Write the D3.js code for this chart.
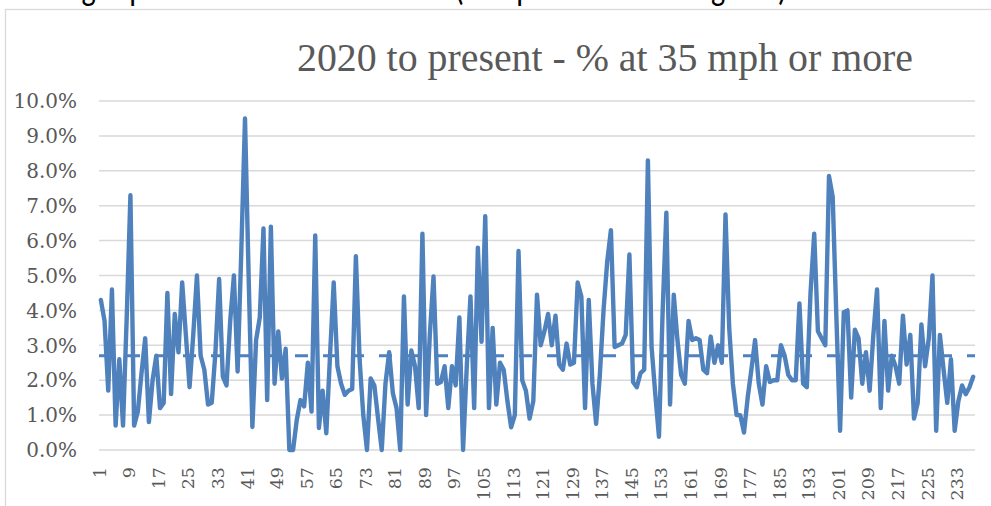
<!DOCTYPE html>
<html>
<head>
<meta charset="utf-8">
<script src="https://cdn.jsdelivr.net/npm/d3@7"></script>
<style>
  html, body { margin: 0; padding: 0; background: #fff; }
  svg { display: block; }
</style>
</head>
<body>
<div id="chart"></div>
<script>
// ---------- data ----------
const chartTitle = "2020 to present - % at 35 mph or more";
const headerText = "Average speed over time at this site (compared to 2019 figures)";
const pctAt35 = [
  4.3, 3.7, 1.7, 4.6, 0.7, 2.6, 0.7, 3.8, 7.3, 0.7,
  1.1, 2.2, 3.2, 0.8, 2.0, 2.7, 1.2, 1.35, 4.5, 1.6,
  3.9, 2.8, 4.8, 3.3, 1.8, 3.3, 5.0, 2.7, 2.3, 1.3,
  1.35, 2.8, 4.9, 2.1, 1.85, 3.7, 5.0, 2.25, 5.7, 9.5,
  4.9, 0.66, 3.15, 3.8, 6.35, 1.43, 6.4, 1.9, 3.4, 2.05,
  2.9, 0, 0, 0.86, 1.43, 1.25, 2.5, 1.1, 6.15, 0.63,
  1.7, 0.48, 2.7, 4.8, 2.4, 1.9, 1.58, 1.7, 1.75, 5.55,
  2.6, 1.0, 0, 2.05, 1.85, 0.9, 0, 1.9, 2.8, 1.63,
  1.2, 0, 4.4, 1.3, 2.85, 2.4, 1.2, 6.2, 1.0, 3.3,
  4.97, 1.9, 1.95, 2.4, 1.2, 2.4, 1.85, 3.8, 0, 2.4,
  4.4, 1.2, 5.8, 3.1, 6.7, 1.2, 3.5, 1.3, 2.5, 2.3,
  1.4, 0.65, 1.0, 5.7, 2.0, 1.7, 0.9, 1.4, 4.45, 3.0,
  3.4, 3.9, 3.0, 3.85, 2.45, 2.3, 3.05, 2.45, 2.5, 4.8,
  4.4, 1.2, 4.3, 1.9, 0.75, 2.15, 4.0, 5.4, 6.3, 2.95,
  3.0, 3.05, 3.3, 5.6, 1.95, 1.8, 2.2, 2.3, 8.3, 2.95,
  1.6, 0.38, 4.0, 6.8, 1.3, 4.45, 3.15, 2.15, 1.9, 3.7,
  3.15, 3.2, 3.15, 2.3, 2.2, 3.25, 2.5, 3.0, 2.5, 6.75,
  3.5, 1.9, 1.0, 1.0, 0.5, 1.5, 2.3, 3.15, 1.9, 1.3,
  2.4, 1.95, 2.0, 2.0, 3.0, 2.7, 2.15, 2.0, 2.0, 4.2,
  1.9, 1.8, 4.5, 6.2, 3.4, 3.2, 3.0, 7.85, 7.25, 3.8,
  0.55, 3.95, 4.0, 1.5, 3.45, 3.2, 1.9, 2.8, 1.7, 3.3,
  4.6, 1.2, 3.7, 1.7, 2.7, 2.4, 1.9, 3.85, 2.45, 3.3,
  0.9, 1.35, 3.6, 2.4, 3.2, 5.0, 0.55, 3.3, 2.3, 1.35,
  2.6, 0.55, 1.4, 1.85, 1.6, 1.8, 2.1
];
const averagePct = 2.7;
const categories = pctAt35.map((_, i) => i + 1);
const xTickLabels = categories.filter(c => (c - 1) % 8 === 0);
const yTickValues = [0, 1, 2, 3, 4, 5, 6, 7, 8, 9, 10];

// ---------- layout ----------
const W = 991, H = 506;
const plot = { left: 99, right: 975, top: 101, bottom: 450 };
const lineColor = "#4F81BD";
const textColor = "#595959";
const gridColor = "#D9D9D9";

const svg = d3.select("#chart").append("svg")
  .attr("width", W).attr("height", H)
  .attr("viewBox", `0 0 ${W} ${H}`);

svg.append("rect").attr("width", W).attr("height", H).attr("fill", "#fff");

// header text of the page, mostly cropped off above the chart frame
svg.append("text")
  .attr("x", 12).attr("y", 0)
  .attr("font-family", "Carlito, 'Liberation Sans', Arial, sans-serif")
  .attr("font-size", 36)
  .attr("fill", "#000")
  .attr("textLength", 775)
  .attr("lengthAdjust", "spacingAndGlyphs")
  .text(headerText);

// chart frame
svg.append("rect")
  .attr("x", 5.5).attr("y", 9.5)
  .attr("width", 1100).attr("height", 600)
  .attr("fill", "#fff")
  .attr("stroke", gridColor).attr("stroke-width", 1.3);

const x = d3.scalePoint()
  .domain(categories)
  .range([plot.left, plot.right])
  .padding(0.5);

const y = d3.scaleLinear()
  .domain([0, 10])
  .range([plot.bottom, plot.top]);

// gridlines
svg.append("g")
  .selectAll("line")
  .data(yTickValues)
  .join("line")
  .attr("x1", plot.left).attr("x2", plot.right)
  .attr("y1", d => y(d)).attr("y2", d => y(d))
  .attr("stroke", gridColor).attr("stroke-width", 1.5);

// y axis labels
const fmt = d3.format(".1f");
svg.append("g")
  .selectAll("text")
  .data(yTickValues)
  .join("text")
  .attr("x", 77)
  .attr("y", d => y(d))
  .attr("dy", "0.36em")
  .attr("text-anchor", "end")
  .attr("font-family", "'DejaVu Serif', serif")
  .attr("font-size", 20)
  .attr("fill", textColor)
  .text(d => fmt(d) + "%");

// x axis labels (rotated)
svg.append("g")
  .selectAll("text")
  .data(xTickLabels)
  .join("text")
  .attr("transform", d => `translate(${x(d) - 1.5},467) rotate(-90)`)
  .attr("dy", "0.36em")
  .attr("text-anchor", "end")
  .attr("font-family", "'DejaVu Serif', serif")
  .attr("font-size", 17.5)
  .attr("fill", textColor)
  .text(d => d);

// average line (dashed)
svg.append("line")
  .attr("x1", plot.left).attr("x2", plot.right)
  .attr("y1", y(averagePct)).attr("y2", y(averagePct))
  .attr("stroke", lineColor)
  .attr("stroke-width", 3)
  .attr("stroke-dasharray", "13,15");

// data line
const line = d3.line()
  .x((d, i) => x(categories[i]))
  .y(d => y(d));

svg.append("path")
  .datum(pctAt35)
  .attr("d", line)
  .attr("fill", "none")
  .attr("stroke", lineColor)
  .attr("stroke-width", 4.4)
  .attr("stroke-linejoin", "round")
  .attr("stroke-linecap", "round");

// title
svg.append("text")
  .attr("x", 605).attr("y", 71)
  .attr("text-anchor", "middle")
  .attr("font-family", "'Liberation Serif', 'Times New Roman', serif")
  .attr("font-size", 39)
  .attr("fill", textColor)
  .attr("textLength", 616)
  .attr("lengthAdjust", "spacingAndGlyphs")
  .text(chartTitle);
</script>
</body>
</html>
